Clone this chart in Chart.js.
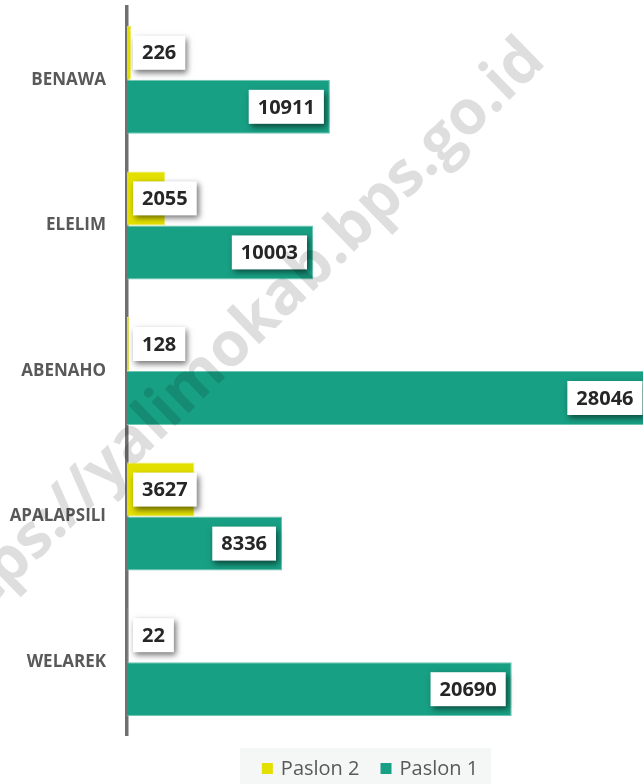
<!DOCTYPE html>
<html>
<head>
<meta charset="utf-8">
<script src="https://cdn.jsdelivr.net/npm/chart.js@4/dist/chart.umd.min.js"></script>
<style>
  html, body { margin: 0; padding: 0; background: #ffffff; }
  canvas { display: block; }
</style>
</head>
<body>
<canvas id="c" width="643" height="784"></canvas>
<script>
const categories = ['BENAWA', 'ELELIM', 'ABENAHO', 'APALAPSILI', 'WELAREK'];
const paslon2 = [226, 2055, 128, 3627, 22];
const paslon1 = [10911, 10003, 28046, 8336, 20690];
const seriesNames = ['Paslon 2', 'Paslon 1'];
const seriesColors = ['#e3e000', '#18a084'];
const seriesBorders = ['#eded6a', '#6cc6b2'];
const watermarkText = 'https://yalimokab.bps.go.id';

const dataLabels = {
  id: 'dataLabels',
  afterDatasetsDraw(chart) {
    const ctx = chart.ctx;
    ctx.save();
    ctx.font = '700 20px "Open Sans"';
    ctx.textAlign = 'center';
    ctx.textBaseline = 'middle';
    chart.data.datasets.forEach((ds, i) => {
      const meta = chart.getDatasetMeta(i);
      meta.data.forEach((bar, j) => {
        const text = String(ds.data[j]);
        const w = ctx.measureText(text).width + 18;
        const h = 34;
        const len = bar.x - bar.base;
        const left = (w + 12 > len) ? bar.base + 6 : bar.x - 6 - w;
        const top = bar.y - h / 2;
        ctx.save();
        ctx.shadowColor = 'rgba(0,0,0,0.55)';
        ctx.shadowBlur = 6;
        ctx.shadowOffsetX = 2;
        ctx.shadowOffsetY = 3;
        ctx.fillStyle = '#ffffff';
        ctx.fillRect(left, top, w, h);
        ctx.restore();
        ctx.fillStyle = '#262626';
        ctx.fillText(text, left + w / 2, bar.y + 1);
      });
    });
    ctx.restore();
  }
};

const customLegend = {
  id: 'customLegend',
  afterDraw(chart) {
    const ctx = chart.ctx;
    ctx.save();
    ctx.font = '400 20px "Open Sans"';
    const box = 11, gap = 8, itemGap = 21;
    const widths = chart.data.datasets.map(d => ctx.measureText(d.label).width);
    let total = 0;
    widths.forEach((tw, i) => { total += box + gap + tw + (i ? itemGap : 0); });
    const cx = 370;
    let x = cx - total / 2;
    const bgLeft = x - 22, bgRight = x + total + 13;
    ctx.fillStyle = '#f5f7f7';
    ctx.fillRect(bgLeft, 748, bgRight - bgLeft, chart.height - 748);
    const cy = 768.5;
    chart.data.datasets.forEach((d, i) => {
      ctx.fillStyle = d.backgroundColor;
      ctx.fillRect(x, cy - box / 2, box, box);
      x += box + gap;
      ctx.fillStyle = '#595959';
      ctx.textBaseline = 'middle';
      ctx.textAlign = 'left';
      ctx.fillText(d.label, x, cy + 1);
      x += widths[i] + itemGap;
    });
    ctx.restore();
  }
};

const watermark = {
  id: 'watermark',
  afterDraw(chart) {
    const ctx = chart.ctx;
    ctx.save();
    // reference points on the watermark (dot centres) used for scale / angle / anchor
    const p1 = { x: 338, y: 258 }, p2 = { x: 500, y: 100 }, pa = { x: 432, y: 170 };
    const fam = '"Open Sans"';
    const i1 = watermarkText.indexOf('.bps');
    const i2 = watermarkText.indexOf('.id');
    const ia = watermarkText.indexOf('.go');
    ctx.font = '700 64px ' + fam;
    const dotW = ctx.measureText('.').width;
    const c1 = ctx.measureText(watermarkText.slice(0, i1)).width + dotW / 2;
    const c2 = ctx.measureText(watermarkText.slice(0, i2)).width + dotW / 2;
    const dist = Math.hypot(p2.x - p1.x, p2.y - p1.y);
    const size = 0.96 * 64 * dist / (c2 - c1);
    const ang = Math.atan2(p2.y - p1.y, p2.x - p1.x);
    ctx.font = '700 ' + size.toFixed(2) + 'px ' + fam;
    const dw = ctx.measureText('.').width;
    const off = ctx.measureText(watermarkText.slice(0, ia)).width + dw / 2;
    const nx = -Math.sin(ang), ny = Math.cos(ang);
    ctx.translate(pa.x + nx * 4, pa.y + ny * 4);
    ctx.rotate(ang);
    ctx.textAlign = 'left';
    ctx.textBaseline = 'alphabetic';
    ctx.fillStyle = 'rgba(0,0,0,0.13)';
    ctx.fillText(watermarkText, -off, 0);
    ctx.restore();
  }
};

new Chart(document.getElementById('c'), {
  type: 'bar',
  data: {
    labels: categories,
    datasets: [
      { label: seriesNames[0], data: paslon2, backgroundColor: seriesColors[0], borderColor: seriesBorders[0], borderWidth: 1, categoryPercentage: 0.742, barPercentage: 1 },
      { label: seriesNames[1], data: paslon1, backgroundColor: seriesColors[1], borderColor: seriesBorders[1], borderWidth: 1, categoryPercentage: 0.742, barPercentage: 1 }
    ]
  },
  options: {
    indexAxis: 'y',
    responsive: false,
    animation: false,
    devicePixelRatio: 1,
    layout: { padding: { top: 7, bottom: 49, left: 0, right: 0 } },
    plugins: { legend: { display: false }, tooltip: { enabled: false } },
    scales: {
      x: { display: false, min: 0, max: 27750 },
      y: {
        grid: { display: false, drawTicks: false },
        border: { display: true, color: '#707070', width: 3.5 },
        ticks: { color: '#595959', padding: 21, font: { family: 'Open Sans', weight: '700', size: 17 } },
        afterFit(scale) { scale.width = 127; scale.paddingTop = 0; scale.paddingBottom = 0; }
      }
    }
  },
  plugins: [dataLabels, customLegend, watermark]
});
</script>
</body>
</html>
